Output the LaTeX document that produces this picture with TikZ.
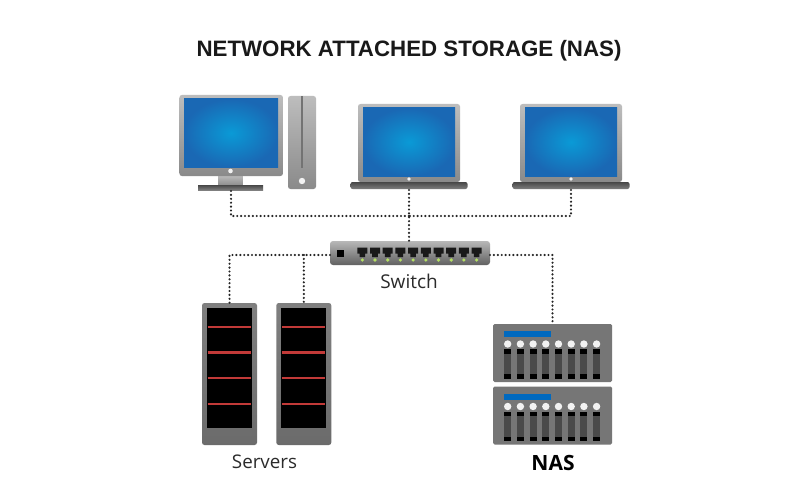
\documentclass[tikz,border=0pt]{standalone}
\usepackage{fontspec}
\setmainfont{Open Sans}
\newfontfamily\titlefont{Liberation Sans}
\definecolor{txt}{HTML}{2B2B2B}
\definecolor{scrI}{HTML}{0A9AD6}
\definecolor{scrO}{HTML}{1A68B4}
\definecolor{metalA}{HTML}{BDBDBD}
\definecolor{metalB}{HTML}{8A8A8A}
\definecolor{darkbar}{HTML}{626466}
\definecolor{nasgrey}{HTML}{767676}
\definecolor{slotgrey}{HTML}{4A4A4A}
\definecolor{redbar}{HTML}{C23A38}
\tikzset{
  x=1pt,y=-1pt,
  box/.style={rectangle,inner sep=0pt,outer sep=0pt},
  metal/.style={box,top color=metalA,bottom color=metalB},
  screen/.style={box,inner color=scrI,outer color=scrO},
  lid/.style={metal,rounded corners=2.5pt},
  basebar/.style={box,top color=black!72,bottom color=black!50},
  link/.style={draw=black!85,line width=2.4pt,line cap=round,dash pattern=on 0pt off 3.9pt},
  label/.style={inner sep=0pt,text=txt},
  srv/.style={box,rounded corners=2.5pt,top color=black!50,bottom color=black!58,minimum width=55pt,minimum height=142pt},
  srvscreen/.style={box,fill=black,minimum width=45pt,minimum height=120pt},
  redline/.style={redbar,line width=2.3pt},
  nasunit/.style={box,fill=nasgrey,rounded corners=1.5pt,minimum width=119pt,minimum height=58pt},
}
\newcommand{\nasdetail}[1]{%
  \begin{scope}[yshift=-#1]
    \fill[blue!45!cyan!75!black] (504,331) rectangle (550.5,337);
    \foreach \i in {0,...,7}{
      \pgfmathsetmacro{\xc}{507.7+12.7*\i}
      \fill[white!90!gray] (\xc,344) circle[radius=3.7];
      \fill[slotgrey] (\xc-3.5,349) rectangle (\xc+3.5,378.5);
      \fill[black] (\xc-3.5,349) rectangle (\xc+3.5,353.5);
      \fill[black] (\xc-3.5,374) rectangle (\xc+3.5,378.5);
    }
  \end{scope}}
\begin{document}
\begin{tikzpicture}
\useasboundingbox (0,0) rectangle (800,500);
\fill[white] (0,0) rectangle (800,500);
\node[label,font=\titlefont\bfseries\fontsize{22.3}{26}\selectfont,text=black!90] (title) at (409,51) {NETWORK ATTACHED STORAGE (NAS)};
% desktop
\node[metal,minimum width=24pt,minimum height=11pt] (stand) at (230.5,180.5) {};
\node[lid,minimum width=103.5pt,minimum height=81pt] (monitor) at (231.2,135.5) {};
\node[screen,minimum width=94pt,minimum height=68pt] (deskscreen) at (231,133) {};
\fill[white!90!gray] (230.5,171) circle[radius=2.3];
\node[basebar,minimum width=65pt,minimum height=5pt] (deskbase) at (230.5,187.5) {};
\node[lid,minimum width=28pt,minimum height=93pt] (tower) at (302,142.5) {};
\fill[black!55] (301,96) rectangle (303.4,168);
\fill[white!90!gray] (302,181) circle[radius=3.2];
% laptops
\foreach \n/\cx in {lapa/409,lapb/571}{
  \node[lid,minimum width=102pt,minimum height=78pt] (\n-lid) at (\cx,143) {};
  \node[screen,minimum width=92pt,minimum height=68pt] (\n-screen) at (\cx,142) {};
  \node[basebar,minimum width=117pt,minimum height=7pt,rounded corners=2pt] (\n-base) at (\cx,185.5) {};
  \fill[white!90!gray] (\cx,179) circle[radius=1.8];
}
% switch
\node[box,rounded corners=3pt,top color=black!28,bottom color=black!62,minimum width=160pt,minimum height=24pt] (switch) at (410,253) {};
\fill[black] (337,250) rectangle (344,257);
\foreach \i in {0,...,9}{
  \pgfmathsetmacro{\xc}{362.3+12.7*\i}
  \fill[black!90] (\xc-5,247.7) -- (\xc+5,247.7) -- (\xc+5,253.5) -- (\xc+2.8,253.5) -- (\xc+2.8,257) -- (\xc-2.8,257) -- (\xc-2.8,253.5) -- (\xc-5,253.5) -- cycle;
  \fill[green!35!yellow!65!white!75!gray] (\xc,260) circle[radius=1.8];
}
\node[label,font=\fontsize{19}{23}\selectfont] (switchlabel) at (409,281) {Switch};
% servers
\foreach \n/\cx in {srva/229.5,srvb/303.8}{
  \node[srv] (\n) at (\cx,374) {};
  \node[srvscreen] (\n-screen) at (\cx,368) {};
  \foreach \yy in {327,352.5,378,404}{
    \draw[redline] (\cx-22,\yy) -- (\cx+21,\yy);
  }
}
\node[label,font=\fontsize{18.8}{23}\selectfont] (srvlabel) at (264.5,462) {Servers};
% NAS
\node[nasunit] (nasa) at (552.5,353) {};
\node[nasunit] (nasb) at (552.5,415.5) {};
\nasdetail{0pt}
\nasdetail{62.5pt}
\node[label,font=\bfseries\fontsize{21}{25}\selectfont,text=black] (naslabel) at (553,463) {NAS};
% connectors
\coordinate (bus) at (409,216);
\draw[link] (deskbase.south) ++(0.5,1) |- (bus);
\draw[link] (lapb-base.south) ++(0,1) |- (bus);
\draw[link] (lapa-base.south) ++(0,1) -- (switch.north -| lapa-base.south);
\coordinate (swl) at (switch.west);
\coordinate (swr) at (switch.east);
\draw[link] ([yshift=-2pt]swl) -| (srva.north);
\draw[link] ([yshift=-2pt]swl -| srvb.north) -- (srvb.north);
\draw[link] ([yshift=-2pt]swr) -| (nasa.north);
\end{tikzpicture}
\end{document}
